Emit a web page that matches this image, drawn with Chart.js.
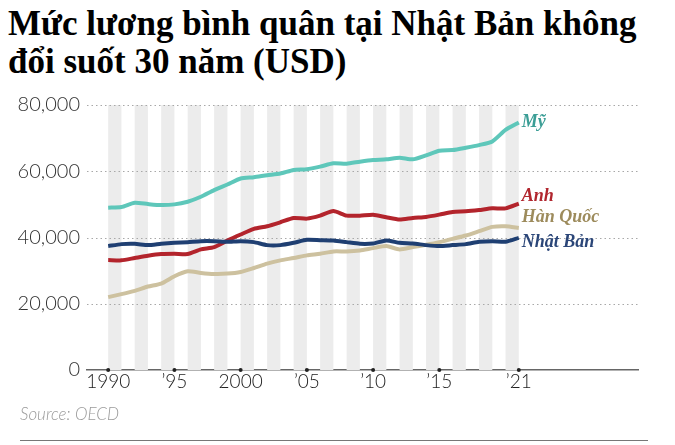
<!DOCTYPE html>
<html>
<head>
<meta charset="utf-8">
<script src="https://cdn.jsdelivr.net/npm/chart.js@4.4.1/dist/chart.umd.min.js"></script>
<style>
  body { margin: 0; background: #fff; }
  #wrap { position: relative; width: 675px; height: 445px; overflow: hidden; }
  #title {
    position: absolute; left: 8px; top: 5px; margin: 0;
    font-family: "Liberation Serif", "Times New Roman", serif;
    font-weight: bold; font-size: 35px; line-height: 38px; color: #000;
  }
  #source {
    position: absolute; left: 20px; top: 403px;
    font-family: "Lato", sans-serif; font-style: italic; font-weight: 300;
    font-size: 17px; color: #9a9a9a;
  }
  #rule { position: absolute; left: 20px; top: 440px; width: 628px; height: 1px; background: #777; }
  canvas { position: absolute; left: 0; top: 0; }
</style>
</head>
<body>
<div id="wrap">
  <h1 id="title">Mức lương bình quân tại Nhật Bản không<br>đổi suốt 30 năm (USD)</h1>
  <canvas id="graficoLuong" width="675" height="445"></canvas>
  <div id="source">Source: OECD</div>
  <div id="rule"></div>
</div>
<script>
// Dữ liệu (USD)
const nam = [1990, 1991, 1992, 1993, 1994, 1995, 1996, 1997, 1998, 1999, 2000,
  2001, 2002, 2003, 2004, 2005, 2006, 2007, 2008, 2009, 2010,
  2011, 2012, 2013, 2014, 2015, 2016, 2017, 2018, 2019, 2020, 2021];

const my = [49000, 49200, 50500, 50100, 49800, 50000, 50800, 52300, 54300, 56000, 57800,
  58200, 58800, 59300, 60400, 60600, 61400, 62400, 62300, 62900, 63400,
  63600, 64100, 63600, 64800, 66200, 66400, 67100, 67900, 69000, 72500, 74700];

const anh = [33200, 33100, 33800, 34500, 35000, 35100, 35000, 36400, 37100, 39100, 40900,
  42600, 43400, 44600, 45900, 45700, 46600, 48000, 46600, 46600, 46900,
  46100, 45400, 45900, 46200, 46900, 47700, 47900, 48300, 48800, 48800, 50200];

const hanQuoc = [22000, 22900, 23900, 25200, 26100, 28300, 29800, 29300, 29000, 29100, 29600,
  30800, 32100, 33100, 33800, 34600, 35100, 35800, 35800, 36100, 36800,
  37400, 36400, 37100, 37800, 38600, 39600, 40600, 41900, 43200, 43400, 42900];

const nhatBan = [37400, 38000, 38100, 37700, 38100, 38400, 38600, 38900, 38900, 38700, 38900,
  38600, 37700, 37700, 38400, 39300, 39200, 39100, 38600, 38100, 38200,
  39100, 38400, 38200, 37700, 37400, 37700, 38000, 38700, 38900, 38700, 39900];

const tickNam = [1990, 1995, 2000, 2005, 2010, 2015, 2021];
const tickNhan = ["1990", "\u201995", "2000", "\u201905", "\u201910", "\u201915", "\u201921"];
const tickGiaTri = [0, 20000, 40000, 60000, 80000];
const namSoc = [1990, 1992, 1994, 1996, 1998, 2000, 2002, 2004, 2006, 2008, 2010,
  2012, 2014, 2016, 2018, 2020];

const series = [
  { nome: "Nhật Bản", dados: nhatBan, cor: "#1f3f72", corNhan: "#2b4678", dy: 5 },
  { nome: "Hàn Quốc", dados: hanQuoc, cor: "#cdc19f", corNhan: "#9d8b5c", dy: -11 },
  { nome: "Anh", dados: anh, cor: "#b3242c", corNhan: "#b1262e", dy: -7 },
  { nome: "Mỹ", dados: my, cor: "#5ec7ba", corNhan: "#3c9e96", dy: 0 },
];

// Plugin: sọc xám nền + chấm tick + nhãn cuối đường
const trangTri = {
  id: "trangTri",
  beforeDatasetsDraw(chart) {
    const { ctx, scales: { x, y } } = chart;
    ctx.save();
    ctx.fillStyle = "#ececec";
    namSoc.forEach((n) => {
      const x0 = x.getPixelForValue(n);
      const x1 = x.getPixelForValue(n + 1);
      const yTop = y.getPixelForValue(80000);
      const yBot = y.getPixelForValue(0);
      ctx.fillRect(x0, yTop, x1 - x0, yBot - yTop);
    });
    // lưới chấm chấm
    ctx.strokeStyle = "#a8a8a8";
    ctx.lineWidth = 1;
    ctx.setLineDash([1.5, 3]);
    tickGiaTri.filter((v) => v > 0).forEach((v) => {
      const py = Math.round(y.getPixelForValue(v)) + 0.5;
      ctx.beginPath();
      ctx.moveTo(x.left, py);
      ctx.lineTo(x.right, py);
      ctx.stroke();
    });
    ctx.restore();
  },
  afterDatasetsDraw(chart) {
    const { ctx, scales: { x, y } } = chart;
    ctx.save();
    ctx.fillStyle = "#222";
    tickNam.forEach((n) => {
      ctx.beginPath();
      ctx.arc(x.getPixelForValue(n), y.getPixelForValue(0), 2, 0, Math.PI * 2);
      ctx.fill();
    });
    ctx.font = "italic bold 18px 'Liberation Serif', serif";
    ctx.textBaseline = "middle";
    series.forEach((s) => {
      const ultimo = s.dados.length - 1;
      const px = x.getPixelForValue(nam[ultimo]);
      const py = y.getPixelForValue(s.dados[ultimo]);
      ctx.fillStyle = s.corNhan;
      ctx.fillText(s.nome, px + 3, py + s.dy);
    });
    ctx.restore();
  },
};

const ctx = document.getElementById("graficoLuong").getContext("2d");

new Chart(ctx, {
  type: "line",
  data: {
    datasets: series.map((s) => ({
      label: s.nome,
      data: s.dados.map((v, i) => ({ x: nam[i], y: v })),
      borderColor: s.cor,
      borderWidth: 4,
      pointRadius: 0,
      tension: 0.2,
      fill: false,
    })),
  },
  options: {
    responsive: false,
    animation: false,
    layout: { padding: { top: 105, right: 37, bottom: 45, left: 0 } },
    plugins: { legend: { display: false }, tooltip: { enabled: false } },
    scales: {
      x: {
        type: "linear",
        min: 1988.4,
        max: 2030,
        afterBuildTicks: (axis) => {
          axis.ticks = tickNam.map((v) => ({ value: v }));
        },
        afterFit: (axis) => { axis.height = 30; },
        ticks: {
          autoSkip: false,
          maxRotation: 0,
          padding: 0,
          color: "#222",
          font: { family: "Lato", size: 19, weight: 300 },
          callback: (v) => tickNhan[tickNam.indexOf(v)],
        },
        grid: { display: false, drawTicks: false },
        border: { display: true, color: "#666", width: 1.5 },
      },
      y: {
        min: 0,
        max: 80000,
        afterBuildTicks: (axis) => {
          axis.ticks = tickGiaTri.map((v) => ({ value: v }));
        },
        afterFit: (axis) => { axis.width = 87; },
        ticks: {
          padding: 7,
          color: "#333",
          font: { family: "Lato", size: 20, weight: 300 },
          callback: (v) => v.toLocaleString("en-US"),
        },
        grid: { display: false, drawTicks: false },
        border: { display: false },
      },
    },
  },
  plugins: [trangTri],
});
</script>
</body>
</html>
